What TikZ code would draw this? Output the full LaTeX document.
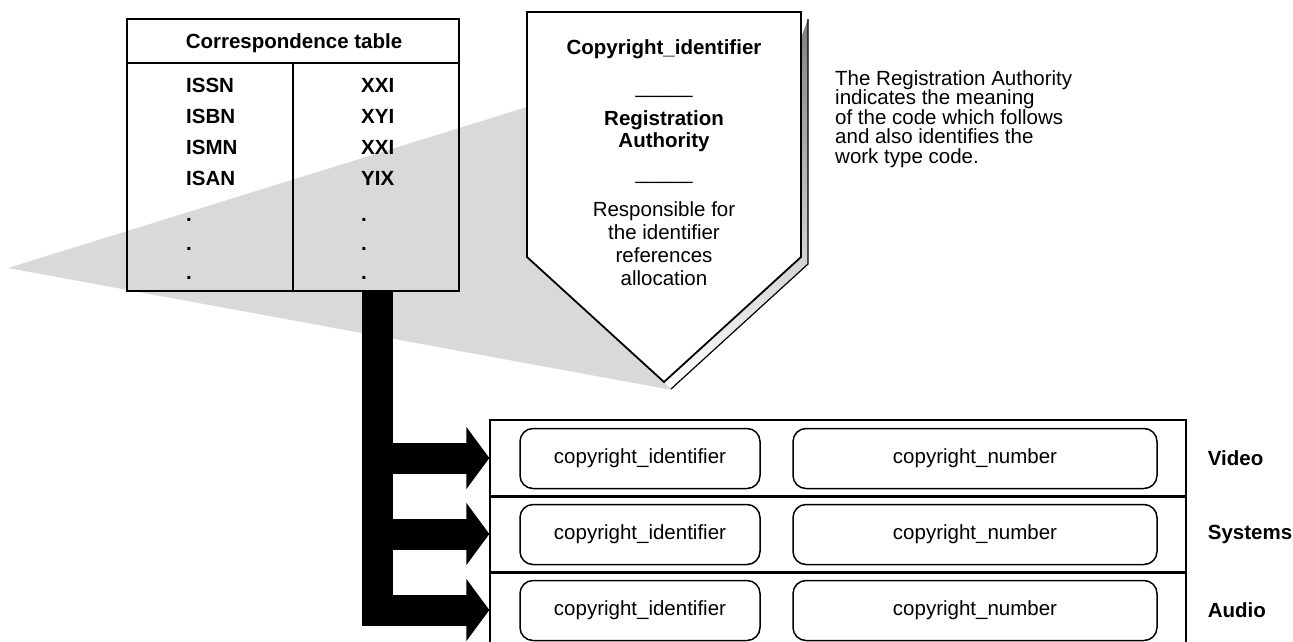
\documentclass[tikz,border=0pt]{standalone}
\usepackage{fontspec}
\setmainfont{Liberation Sans}
\usetikzlibrary{positioning,arrows.meta}

\definecolor{beam}{gray}{0.85}
\definecolor{shade}{gray}{0.9}

\begin{document}
\begin{tikzpicture}[%
    x=1pt, y=-1pt,
    every node/.style={%
      inner sep=0pt,                          % text sits on its anchor
      font=\fontsize{20.5}{23}\selectfont     % Arial-like body text
    },
    bold/.style={%
      font=\fontsize{20.5}{23}\selectfont\bfseries
    },
    frame/.style={%
      draw,             % outline only
      line width=1.4pt
    },
    rowbox/.style={%
      draw,             % one row of the stream box
      line width=1.3pt,
      minimum width=696pt,
      minimum height=76pt
    },
    pill/.style={%
      draw,             % rounded field box
      line width=1.5pt,
      rounded corners=13pt,
      minimum height=60pt
    },
    bus/.style={%
      line width=31pt,  % fat black feed
      -{Triangle[length=23pt,width=61pt]}
    }
]
    \useasboundingbox (0,0) rectangle (1293,641);

    % grey beam behind the shield
    \fill[beam] (8,268) -- (527,107) -- (527,257) -- (664,382) -- (672,390) -- cycle;

    % correspondence table
    \node[frame, minimum width=332pt, minimum height=272pt] (table) at (293,155) {};
    \coordinate (head) at (293,63);
    \draw[line width=2.5pt] (table.west |- head) -- (table.east |- head);
    \draw[line width=2pt] (head) -- (table.south);
    \node[bold] (title) at (294,43) {Correspondence table};

    \foreach \std/\typ [count=\i] in {ISSN/XXI, ISBN/XYI, ISMN/XXI, ISAN/YIX, ./., ./., ./.}
    {
      \pgfmathsetmacro{\base}{\i<5 ? 92+31*(\i-1) : 221+29*(\i-5)}
      \node[bold, anchor=base west] (std\i) at (186,\base) {\std};
      \node[bold, anchor=base west] (typ\i) at (361,\base) {\typ};
    }

    % shield with its shadow
    \draw[shade, line width=1.2pt] (808,19) -- (808,264) -- (671,389);
    \draw[fill=white, line width=1.8pt] (527,12) -- (801,12) -- (801,257)
        -- (664,382) -- (527,257) -- cycle;

    \node[bold, anchor=base] (cid)  at (664,54)  {Copyright\_identifier};
    \node[anchor=base]       (sepa) at (664,93)  {\_\_\_\_\_};
    \node[bold, anchor=base] (ra)   at (664,125) {Registration};
    \node[bold, anchor=base] (rb)   at (664,147) {Authority};
    \node[anchor=base]       (sepb) at (664,179) {\_\_\_\_\_};
    \foreach \txt [count=\i] in {Responsible for, the identifier, references, allocation}
      \node[anchor=base] (resp\i) at (664,{216+23*(\i-1)}) {\txt};

    % note on the right
    \foreach \txt [count=\i] in {The Registration Authority, indicates the meaning,
        of the code which follows, and also identifies the, work type code.}
      \node[anchor=base west] (note\i) at (835,{85+19.5*(\i-1)}) {\txt};

    % stream rows
    \node[rowbox] (video)   at (838,458) {};
    \node[rowbox] (systems) at (838,534) {};
    \node[rowbox] (audio)   at (838,610) {};
    \draw[line width=2.3pt] (video.south west) -- (video.south east);
    \draw[line width=2.3pt] (systems.south west) -- (systems.south east);

    \foreach \row in {video, systems, audio}
    {
      \node[pill, minimum width=240pt] (\row id)  at ([yshift=-0.5pt]\row.center -| 640,0) {copyright\_identifier};
      \node[pill, minimum width=364pt] (\row num) at ([yshift=-0.5pt]\row.center -| 975,0) {copyright\_number};
    }

    \node[bold, right=21pt of video]   (vlab) {Video};
    \node[bold, right=21pt of systems] (slab) {Systems};
    \node[bold, right=21pt of audio]   (alab) {Audio};

    % feed from the table to the rows
    \coordinate (bus) at (377,291);
    \draw[bus] (bus) |- (video.west);
    \draw[bus] (bus) |- (systems.west);
    \draw[bus] (bus) |- (audio.west);

\end{tikzpicture}
\end{document}
